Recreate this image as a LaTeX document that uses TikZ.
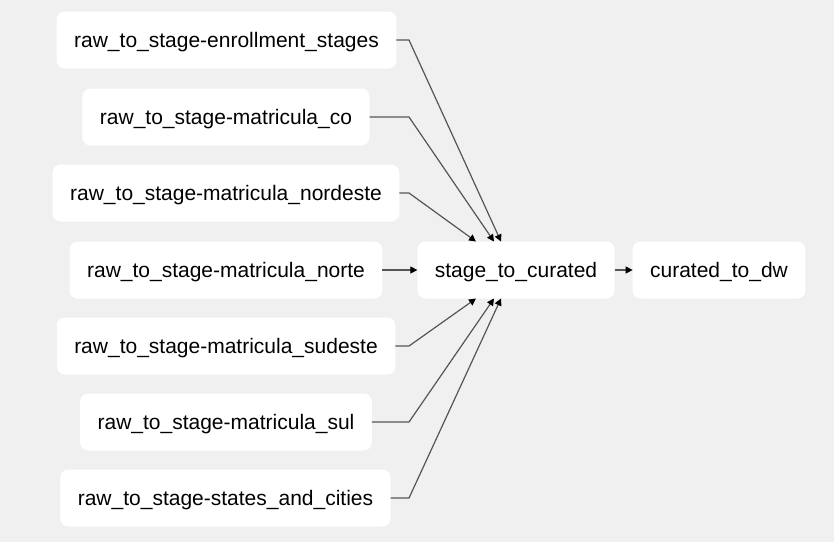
\documentclass[tikz,border=0pt]{standalone}
\usepackage{fontspec}
\setmainfont{Liberation Sans}
\usetikzlibrary{arrows.meta}

\definecolor{bggray}{HTML}{F0F0F0}
\definecolor{edgegray}{HTML}{555555}

\begin{document}
\begin{tikzpicture}[x=1pt,y=-1pt,
  task/.style={draw=none, fill=white, rounded corners=8pt, minimum height=57pt,
    inner xsep=17.5pt, outer sep=0pt, text height=16pt, text depth=2pt,
    font=\fontsize{21}{25}\selectfont},
  edge/.style={draw=edgegray, line width=1.2pt, -{Triangle[length=7pt,width=7pt,black]}}]
\fill[bggray] (0,0) rectangle (834,542);
\useasboundingbox (0,0) rectangle (834,542);

\node[task] (enroll) at (226.5,40) {raw\_to\_stage-enrollment\_stages};
\node[task] (co) at (226,117) {raw\_to\_stage-matricula\_co};
\node[task] (nordeste) at (226,193) {raw\_to\_stage-matricula\_nordeste};
\node[task] (norte) at (226,270) {raw\_to\_stage-matricula\_norte};
\node[task] (sudeste) at (226,346) {raw\_to\_stage-matricula\_sudeste};
\node[task] (sul) at (226,422) {raw\_to\_stage-matricula\_sul};
\node[task] (states) at (225.5,498) {raw\_to\_stage-states\_and\_cities};
\node[task] (stage) at (516,270) {stage\_to\_curated};
\node[task] (dw) at (719,270) {curated\_to\_dw};

% into stage_to_curated
\draw[edge] (enroll.east) -- (409,40) -- ([xshift=-15pt]stage.north);
\draw[edge] (co.east) -- (409,117) -- ([xshift=-22pt]stage.north);
\draw[edge] (nordeste.east) -- (409,193) -- ([xshift=-40pt]stage.north);
\draw[edge] (norte.east) -- (stage.west);
\draw[edge] (sudeste.east) -- (409,346) -- ([xshift=-40pt]stage.south);
\draw[edge] (sul.east) -- (409,422) -- ([xshift=-22pt]stage.south);
\draw[edge] (states.east) -- (409,498) -- ([xshift=-15pt]stage.south);

\draw[edge] (stage.east) -- (dw.west);

\end{tikzpicture}
\end{document}
